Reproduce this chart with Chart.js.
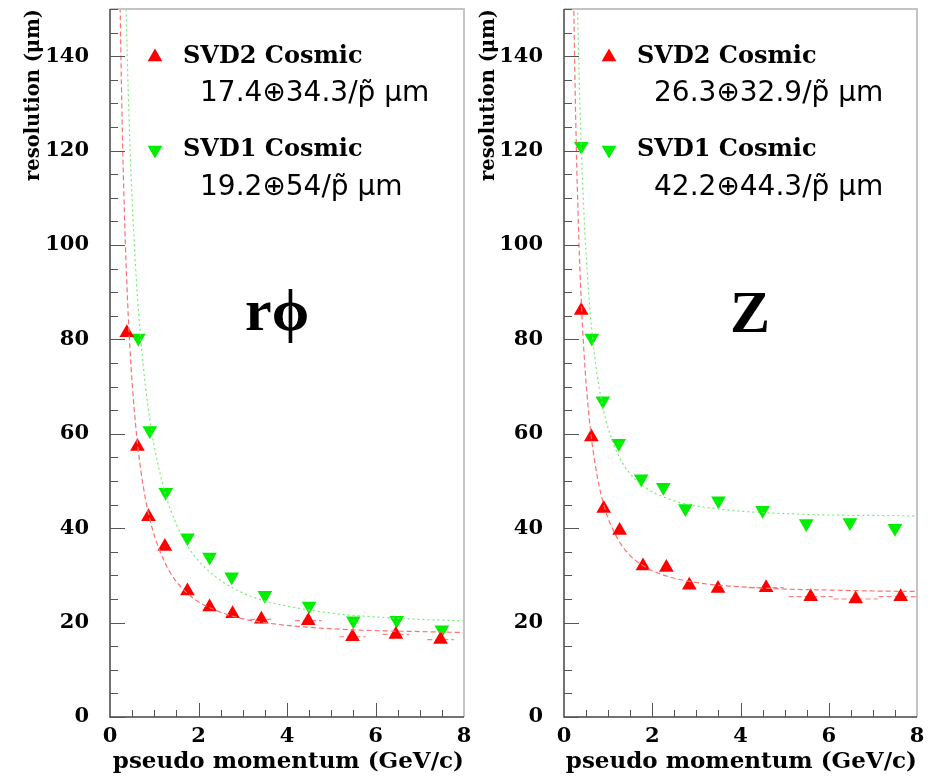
<!DOCTYPE html>
<html>
<head>
<meta charset="utf-8">
<script src="https://cdn.jsdelivr.net/npm/chart.js@4.4.1/dist/chart.umd.min.js"></script>
<style>
  body { margin: 0; background: #fff; }
  #wrap { position: relative; width: 935px; height: 776px; overflow: hidden; background: #fff; }
  canvas { position: absolute; top: 0; }
</style>
</head>
<body>
<div id="wrap">
  <canvas id="rphiChart" width="480" height="776" style="left:0"></canvas>
  <canvas id="zChart" width="480" height="776" style="left:455px"></canvas>
</div>
<script>
// axis ticks
const xTicks = [0, 2, 4, 6, 8];
const yTicks = [0, 20, 40, 60, 80, 100, 120, 140];

// r-phi panel, measured points (pseudo momentum GeV/c, resolution um)
const rphiSvd2P = [0.38, 0.62, 0.87, 1.24, 1.75, 2.25, 2.77, 3.42, 4.48, 5.48, 6.46, 7.47];
const rphiSvd2Res = [81.4, 57.3, 42.4, 36.1, 26.7, 23.3, 21.9, 20.7, 20.4, 17.0, 17.5, 16.4];
const rphiSvd2Err = [0, 0, 0, 0, 0, 0, 0, 0.25, 0.3, 0.3, 0.3, 0.3];
const rphiSvd1P = [0.64, 0.90, 1.26, 1.75, 2.25, 2.75, 3.5, 4.5, 5.5, 6.48, 7.5];
const rphiSvd1Res = [80.3, 60.7, 47.6, 38.0, 33.9, 29.7, 25.8, 23.5, 20.4, 20.5, 18.5];

// Z panel, measured points
const zSvd2P = [0.39, 0.62, 0.90, 1.26, 1.79, 2.32, 2.84, 3.49, 4.58, 5.59, 6.61, 7.63];
const zSvd2Res = [86.1, 59.3, 44.2, 39.5, 32.0, 31.7, 27.9, 27.2, 27.4, 25.5, 25.0, 25.5];
const zSvd2Err = [0, 0, 0, 0, 0, 0, 0, 0, 0.4, 0.5, 0.5, 0.5];
const zSvd1P = [0.39, 0.63, 0.88, 1.24, 1.75, 2.25, 2.75, 3.5, 4.5, 5.49, 6.48, 7.5];
const zSvd1Res = [120.9, 80.3, 67.0, 58.0, 50.5, 48.7, 44.2, 45.8, 43.8, 41.0, 41.2, 40.0];

// fit curves
const fitP = [0.2, 0.22, 0.25, 0.28, 0.3, 0.35, 0.4, 0.45, 0.5, 0.6, 0.7, 0.8, 0.9, 1.0, 1.25, 1.5, 1.75, 2, 2.5, 3, 3.5, 4, 5, 6, 7, 8];
const rphiSvd2Fit = [172.4, 156.9, 138.3, 123.7, 115.6, 99.5, 87.5, 78.2, 70.8, 59.8, 52.0, 46.3, 41.9, 38.5, 32.5, 28.7, 26.2, 24.4, 22.2, 20.8, 20.0, 19.4, 18.7, 18.3, 18.1, 17.9];
const rphiSvd1Fit = [270.7, 246.2, 216.9, 193.8, 181.0, 155.5, 136.4, 121.5, 109.7, 92.0, 79.5, 70.2, 63.0, 57.3, 47.3, 40.8, 36.3, 33.1, 28.9, 26.3, 24.6, 23.5, 22.0, 21.2, 20.7, 20.4];
const zSvd2Fit = [166.6, 151.8, 134.2, 120.4, 112.8, 97.6, 86.4, 77.7, 70.9, 60.8, 53.9, 48.8, 45.0, 42.1, 37.2, 34.2, 32.3, 31.0, 29.4, 28.5, 27.9, 27.6, 27.1, 26.9, 26.7, 26.6];
const zSvd1Fit = [225.5, 205.7, 182.2, 163.7, 153.6, 133.4, 118.5, 107.1, 98.1, 85.0, 76.1, 69.6, 64.8, 61.2, 55.1, 51.5, 49.2, 47.7, 45.8, 44.7, 44.1, 43.6, 43.1, 42.8, 42.7, 42.6];

const RED = '#ff0000';
const GREEN = '#00ee00';
const SERIF = '"DejaVu Serif", serif';

const pts = (xs, ys) => xs.map((x, i) => ({ x: x, y: ys[i] }));

// inward ROOT-style ticks, frame and x error bars
const framePlugin = {
  id: 'frame',
  beforeDatasetsDraw(chart) {
    const { ctx, scales: { x, y } } = chart;
    ctx.save();
    ctx.strokeStyle = '#ff8080';
    ctx.lineWidth = 1.2;
    ctx.setLineDash([5, 3]);
    chart.data.datasets.forEach(ds => {
      if (!ds.xErr) return;
      ds.data.forEach((p, i) => {
        const e = ds.xErr[i];
        if (!e) return;
        const py = y.getPixelForValue(p.y);
        ctx.beginPath();
        ctx.moveTo(x.getPixelForValue(p.x - e), py);
        ctx.lineTo(x.getPixelForValue(Math.min(8, p.x + e)), py);
        ctx.stroke();
      });
    });
    ctx.restore();
  },
  afterDatasetsDraw(chart) {
    const { ctx, chartArea: a, scales: { x, y } } = chart;
    ctx.save();
    ctx.strokeStyle = '#c4c4c4';
    ctx.lineWidth = 2;
    ctx.beginPath();
    ctx.moveTo(a.left, a.top);
    ctx.lineTo(a.right, a.top);
    ctx.lineTo(a.right, a.bottom);
    ctx.stroke();

    ctx.strokeStyle = '#444';
    ctx.lineWidth = 1.5;
    ctx.beginPath();
    ctx.moveTo(a.left, a.top);
    ctx.lineTo(a.left, a.bottom);
    ctx.lineTo(a.right, a.bottom);
    ctx.stroke();

    ctx.lineWidth = 1;
    ctx.strokeStyle = '#555';
    ctx.beginPath();
    for (let v = 0; v <= 150; v += 5) {
      const py = Math.round(y.getPixelForValue(v)) + 0.5;
      const len = v % 20 === 0 ? 15 : 8;
      ctx.moveTo(a.left, py);
      ctx.lineTo(a.left + len, py);
    }
    for (let v = 0.5; v < 8; v += 0.5) {
      const px = Math.round(x.getPixelForValue(v)) + 0.5;
      const len = v % 2 === 0 ? 14 : 7;
      ctx.moveTo(px, a.bottom);
      ctx.lineTo(px, a.bottom - len);
    }
    ctx.stroke();
    ctx.restore();
  }
};

// legend block and the big panel label
const panelPlugin = {
  id: 'panel',
  afterDraw(chart, args, opts) {
    const { ctx, chartArea: a } = chart;
    const mx = a.left + 45;
    ctx.save();
    ctx.fillStyle = RED;
    ctx.strokeStyle = RED;
    Chart.helpers.drawPoint(ctx, { pointStyle: 'triangle', radius: 8.5, rotation: 0, borderWidth: 0 }, mx, 57);
    ctx.fillStyle = GREEN;
    ctx.strokeStyle = GREEN;
    Chart.helpers.drawPoint(ctx, { pointStyle: 'triangle', radius: 8.5, rotation: 180, borderWidth: 0 }, mx, 150);

    ctx.fillStyle = '#000';
    ctx.textBaseline = 'middle';
    ctx.textAlign = 'left';
    ctx.font = 'bold 24px ' + SERIF;
    ctx.fillText(opts.svd2Name, a.left + 73, 57);
    ctx.fillText(opts.svd1Name, a.left + 73, 150);
    ctx.font = '28px "DejaVu Sans", sans-serif';
    ctx.fillText(opts.svd2Fit, a.left + 90, 94);
    ctx.fillText(opts.svd1Fit, a.left + 90, 188);

    ctx.textBaseline = 'alphabetic';
    ctx.font = 'bold 60px "Liberation Serif", serif';
    ctx.fillText(opts.label, a.left + opts.labelX, opts.labelY);
    ctx.restore();
  }
};

function makeChart(id, axisLeft, padRight, svd2, svd1, fit2, fit1, err2, panel) {
  return new Chart(document.getElementById(id), {
    type: 'scatter',
    data: {
      datasets: [
        {
          type: 'line', data: pts(fitP, fit2), borderColor: '#ff7070', borderWidth: 1.2,
          borderDash: [5, 3], pointRadius: 0, cubicInterpolationMode: 'monotone', fill: false
        },
        {
          type: 'line', data: pts(fitP, fit1), borderColor: '#70ee70', borderWidth: 1.2,
          borderDash: [2, 3], pointRadius: 0, cubicInterpolationMode: 'monotone', fill: false
        },
        {
          label: 'SVD2 Cosmic', data: svd2, xErr: err2, pointStyle: 'triangle', pointRadius: 8.5,
          backgroundColor: RED, borderColor: RED, borderWidth: 0
        },
        {
          label: 'SVD1 Cosmic', data: svd1, pointStyle: 'triangle', pointRotation: 180, pointRadius: 8.5,
          backgroundColor: GREEN, borderColor: GREEN, borderWidth: 0
        }
      ]
    },
    options: {
      responsive: false,
      animation: false,
      devicePixelRatio: 1,
      events: [],
      layout: { padding: { top: 9, right: padRight, left: 0, bottom: 0 } },
      plugins: { legend: { display: false }, tooltip: { enabled: false }, panel: panel },
      scales: {
        x: {
          type: 'linear', min: 0, max: 8,
          afterBuildTicks: s => { s.ticks = xTicks.map(v => ({ value: v })); },
          afterFit: s => { s.height = 59; s.paddingLeft = 0; s.paddingRight = 0; },
          grid: { display: false, drawTicks: false },
          border: { display: false },
          ticks: { color: '#000', font: { family: SERIF, weight: 'bold', size: 21 }, padding: 7, maxRotation: 0 },
          title: {
            display: true, text: 'pseudo momentum (GeV/c)', align: 'end', color: '#000',
            font: { family: SERIF, weight: 'bold', size: 23 }, padding: { top: 0, bottom: 0 }
          }
        },
        y: {
          type: 'linear', min: 0, max: 150,
          afterBuildTicks: s => { s.ticks = yTicks.map(v => ({ value: v })); },
          afterFit: s => { s.width = axisLeft; s.paddingTop = 0; s.paddingBottom = 0; },
          grid: { display: false, drawTicks: false },
          border: { display: false },
          ticks: { color: '#000', font: { family: SERIF, weight: 'bold', size: 21 }, padding: 21 },
          title: {
            display: true, text: 'resolution (μm)', align: 'end', color: '#000',
            font: { family: SERIF, weight: 'bold', size: 19.5 }, padding: { top: 22, bottom: 0 }
          }
        }
      }
    },
    plugins: [framePlugin, panelPlugin]
  });
}

makeChart('rphiChart', 110, 16,
  pts(rphiSvd2P, rphiSvd2Res), pts(rphiSvd1P, rphiSvd1Res), rphiSvd2Fit, rphiSvd1Fit, rphiSvd2Err,
  { svd2Name: 'SVD2 Cosmic', svd1Name: 'SVD1 Cosmic', svd2Fit: '17.4⊕34.3/p̃ μm', svd1Fit: '19.2⊕54/p̃ μm',
    label: 'rϕ', labelX: 135, labelY: 330 });

makeChart('zChart', 109, 18,
  pts(zSvd2P, zSvd2Res), pts(zSvd1P, zSvd1Res), zSvd2Fit, zSvd1Fit, zSvd2Err,
  { svd2Name: 'SVD2 Cosmic', svd1Name: 'SVD1 Cosmic', svd2Fit: '26.3⊕32.9/p̃ μm', svd1Fit: '42.2⊕44.3/p̃ μm',
    label: 'Z', labelX: 166, labelY: 332 });
</script>
</body>
</html>
